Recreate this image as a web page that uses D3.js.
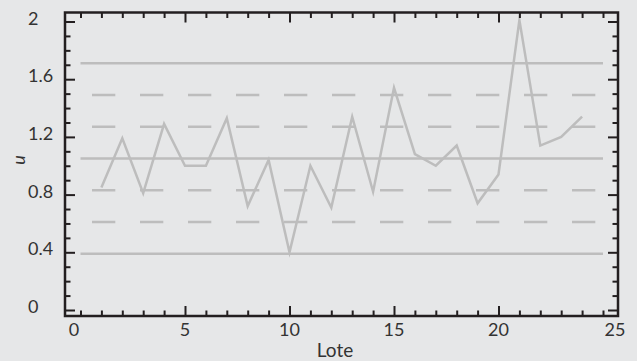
<!DOCTYPE html>
<html>
<head>
<meta charset="utf-8">
<script src="https://cdn.jsdelivr.net/npm/d3@7"></script>
<style>
  body { margin: 0; background: #e6e7e8; }
  text { font-family: Lato, "Open Sans", sans-serif; fill: #333; }
</style>
</head>
<body>
<div class="chart"></div>
<script>
var svgWidth = 637;
var svgHeight = 361;

// lote number and u value
var lotes = d3.range(1, 25);
var uValues = [0.85, 1.19, 0.81, 1.29, 1.0, 1.0, 1.33, 0.72, 1.04, 0.40, 1.0, 0.71,
  1.34, 0.82, 1.54, 1.08, 1.0, 1.14, 0.74, 0.94, 2.01, 1.14, 1.2, 1.34];

// control limits: center line, +-1, +-2, +-3 sigma
var solidLimits = [0.39, 1.05, 1.71];
var dashedLimits = [0.61, 0.83, 1.27, 1.49];

var xTickLabels = [0, 5, 10, 15, 20, 25];
var yTickLabels = [0, 0.4, 0.8, 1.2, 1.6, 2];

var frame = { left: 65, top: 12.5, right: 618, bottom: 316 };

var svg = d3.select(".chart")
  .append("svg")
  .attr("width", svgWidth)
  .attr("height", svgHeight);

var x = d3.scaleLinear().domain([0, 25]).range([80.5, 603]);
var y = d3.scaleLinear().domain([0, 2]).range([310, 21.5]);

var lineColor = "#bdbdbd";

// control lines
svg.selectAll(".solid")
  .data(solidLimits)
  .enter().append("line")
  .attr("x1", x(0)).attr("x2", x(25))
  .attr("y1", d => y(d)).attr("y2", d => y(d))
  .attr("stroke", lineColor)
  .attr("stroke-width", 2.5);

svg.selectAll(".dashed")
  .data(dashedLimits)
  .enter().append("line")
  .attr("x1", x(0)).attr("x2", x(25))
  .attr("y1", d => y(d)).attr("y2", d => y(d))
  .attr("stroke", lineColor)
  .attr("stroke-width", 2.5)
  .attr("stroke-dasharray", "23.3,24.7")
  .attr("stroke-dashoffset", 36.5);

// data line
var line = d3.line()
  .x((d, i) => x(lotes[i]))
  .y(d => y(d));

svg.append("path")
  .datum(uValues)
  .attr("d", line)
  .attr("fill", "none")
  .attr("stroke", lineColor)
  .attr("stroke-width", 2.5)
  .attr("stroke-linejoin", "miter")
  .attr("stroke-miterlimit", 10);

// frame
svg.append("rect")
  .attr("x", frame.left)
  .attr("y", frame.top)
  .attr("width", frame.right - frame.left)
  .attr("height", frame.bottom - frame.top)
  .attr("fill", "none")
  .attr("stroke", "#231f20")
  .attr("stroke-width", 2.5);

// ticks on all four sides, pointing inward
var xMajor = [5, 10, 15, 20];
var xMinor = d3.range(0, 26).filter(d => d % 5 !== 0 || d === 0 || d === 25);
var yMajor = yTickLabels;
var yMinor = d3.range(0, 21).map(d => d / 10).filter(d => Math.round(d * 10) % 4 !== 0);

function addAxis(axis, tx, ty) {
  var g = svg.append("g")
    .attr("transform", "translate(" + tx + "," + ty + ")")
    .call(axis.tickFormat(""));
  g.select(".domain").remove();
  g.selectAll(".tick line").attr("stroke", "#231f20").attr("stroke-width", 2);
}

addAxis(d3.axisBottom(x).tickValues(xMajor).tickSize(-10), 0, frame.bottom);
addAxis(d3.axisBottom(x).tickValues(xMinor).tickSize(-5.5), 0, frame.bottom);
addAxis(d3.axisTop(x).tickValues(xMajor).tickSize(-10), 0, frame.top);
addAxis(d3.axisTop(x).tickValues(xMinor).tickSize(-5.5), 0, frame.top);
addAxis(d3.axisLeft(y).tickValues(yMajor).tickSize(-10), frame.left, 0);
addAxis(d3.axisLeft(y).tickValues(yMinor).tickSize(-5.5), frame.left, 0);
addAxis(d3.axisRight(y).tickValues(yMajor).tickSize(-10), frame.right, 0);
addAxis(d3.axisRight(y).tickValues(yMinor).tickSize(-5.5), frame.right, 0);

// tick labels
svg.selectAll(".xlabel")
  .data(xTickLabels)
  .enter().append("text")
  .attr("x", d => x(d) + (d === 0 ? -6.5 : d === 25 ? 12 : 0))
  .attr("y", 336)
  .attr("text-anchor", "middle")
  .style("font-size", "18px")
  .text(d => d);

svg.selectAll(".ylabel")
  .data(yTickLabels)
  .enter().append("text")
  .attr("x", 28)
  .attr("y", d => y(d) + 3)
  .attr("text-anchor", "start")
  .style("font-size", "18px")
  .text(d => d);

// axis titles
svg.append("text")
  .attr("x", 335)
  .attr("y", 357)
  .attr("text-anchor", "middle")
  .style("font-size", "19px")
  .text("Lote");

svg.append("text")
  .attr("transform", "translate(25, 160) rotate(-90)")
  .attr("text-anchor", "middle")
  .style("font-size", "18px")
  .style("font-style", "italic")
  .text("u");
</script>
</body>
</html>
